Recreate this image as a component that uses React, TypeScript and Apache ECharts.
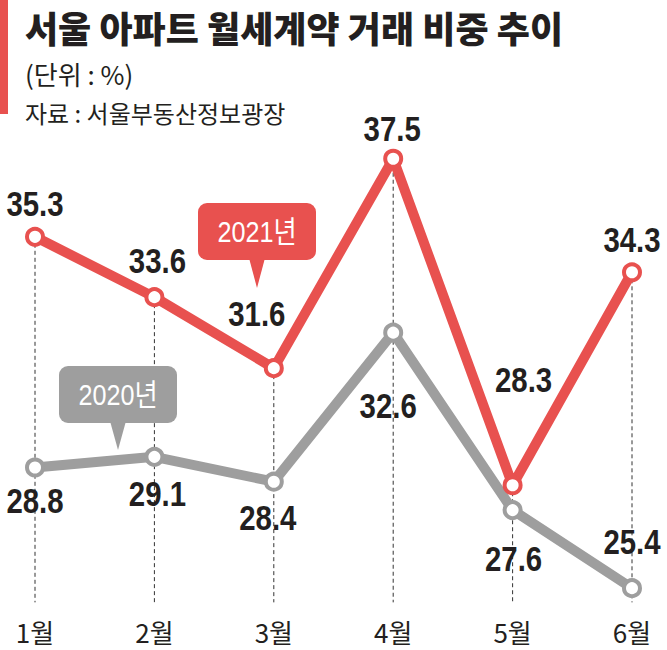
import React, { useEffect, useRef } from "react";
import * as echarts from "echarts";

// ---- data ----
const categories = ["1월", "2월", "3월", "4월", "5월", "6월"];
const values2021 = [35.3, 33.6, 31.6, 37.5, 28.3, 34.3];
const values2020 = [28.8, 29.1, 28.4, 32.6, 27.6, 25.4];
const seriesNames = ["2021년", "2020년"];
const titleText = "서울 아파트 월세계약 거래 비중 추이";
const unitText = "(단위 : %)";
const sourceText = "자료 : 서울부동산정보광장";

// ---- layout / style ----
const RED = "#e8514f";
const GRAY = "#9e9e9e";
const INK = "#231f20";
const NUM_FONT = '"Liberation Sans", Arial, sans-serif';
const KR_FONT = '"Noto Sans CJK KR", "Noto Sans", sans-serif';
const NARROW = 0.84;
const Y_MIN = 24.7;
const Y_MAX = 38;
const DASH_BOTTOM = 25.0;
// label centre offsets from each point (px)
const labelOffsets2021: [number, number][] = [
  [0, -33], [3, -36], [-17, -54], [-1, -30], [11, -105], [0, -32],
];
const labelOffsets2020: [number, number][] = [
  [0, 34], [3, 37], [-6, 36], [-5, 73], [1, 49], [0, -46],
];

function labelSeries(values: number[], offsets: [number, number][]) {
  return {
    type: "custom",
    silent: true,
    z: 6,
    data: values.map((v, i) => [i, v]),
    renderItem: (params: any, api: any) => {
      const p = api.coord([api.value(0), api.value(1)]);
      const off = offsets[params.dataIndex];
      return {
        type: "text",
        x: p[0] + off[0],
        y: p[1] + off[1],
        scaleX: NARROW,
        style: {
          text: Number(api.value(1)).toFixed(1),
          fontFamily: NUM_FONT,
          fontWeight: "bold",
          fontSize: 35,
          fill: INK,
          align: "center",
          verticalAlign: "middle",
        },
      };
    },
  };
}

export default function App() {
  const ref = useRef<HTMLDivElement>(null);

  useEffect(() => {
    if (!ref.current) return;
    const chart = echarts.init(ref.current, null, { renderer: "svg" });

    const dashData = categories.map((_, i) => [
      i,
      Math.max(values2021[i], values2020[i]),
      DASH_BOTTOM,
    ]);

    const badgeText = (text: string, x: number, y: number) => ({
      type: "text",
      z: 11,
      x,
      y,
      scaleX: NARROW,
      style: {
        text,
        fontFamily: NUM_FONT + ", " + KR_FONT,
        fontSize: 30,
        fill: "#ffffff",
        align: "center",
        verticalAlign: "middle",
      },
    });

    const option: any = {
      animation: false,
      backgroundColor: "#ffffff",
      title: {
        text: titleText,
        left: 25,
        top: 9,
        padding: 0,
        textStyle: {
          fontFamily: KR_FONT,
          fontWeight: 900,
          fontSize: 36,
          lineHeight: 36,
          color: INK,
        },
      },
      grid: { left: 35, right: 35, top: 141, height: 472 },
      xAxis: {
        type: "category",
        data: categories,
        boundaryGap: false,
        axisLine: { show: false },
        axisTick: { show: false },
        splitLine: { show: false },
        axisLabel: {
          margin: 5,
          fontFamily: KR_FONT,
          fontSize: 26,
          lineHeight: 26,
          color: INK,
        },
      },
      yAxis: {
        type: "value",
        min: Y_MIN,
        max: Y_MAX,
        show: false,
        splitLine: { show: false },
      },
      series: [
        {
          type: "custom",
          silent: true,
          z: 1,
          data: dashData,
          renderItem: (params: any, api: any) => {
            const top = api.coord([api.value(0), api.value(1)]);
            const bottom = api.coord([api.value(0), api.value(2)]);
            return {
              type: "line",
              shape: { x1: top[0], y1: top[1], x2: bottom[0], y2: bottom[1] },
              style: { stroke: "#333333", lineWidth: 1, lineDash: [4, 3] },
            };
          },
        },
        {
          name: seriesNames[1],
          type: "line",
          z: 2,
          data: values2020,
          symbol: "circle",
          symbolSize: 16,
          lineStyle: { color: GRAY, width: 10 },
          itemStyle: { color: "#ffffff", borderColor: GRAY, borderWidth: 4 },
        },
        {
          name: seriesNames[0],
          type: "line",
          z: 3,
          data: values2021,
          symbol: "circle",
          symbolSize: 16,
          lineStyle: { color: RED, width: 10 },
          itemStyle: { color: "#ffffff", borderColor: RED, borderWidth: 4 },
        },
        labelSeries(values2020, labelOffsets2020),
        labelSeries(values2021, labelOffsets2021),
      ],
      graphic: [
        { type: "rect", shape: { x: 0, y: 0, width: 8, height: 114 }, style: { fill: RED } },
        {
          type: "text",
          x: 25,
          y: 73,
          style: {
            text: unitText,
            fontFamily: KR_FONT,
            fontSize: 26,
            fill: INK,
            verticalAlign: "middle",
          },
        },
        {
          type: "text",
          x: 25,
          y: 112,
          style: {
            text: sourceText,
            fontFamily: KR_FONT,
            fontSize: 24,
            fill: INK,
            verticalAlign: "middle",
          },
        },
        // 2021 badge
        {
          type: "rect",
          z: 10,
          shape: { x: 198, y: 203, width: 118, height: 57, r: 9 },
          style: { fill: RED },
        },
        {
          type: "polygon",
          z: 10,
          shape: { points: [[249, 258], [265, 258], [257, 288]] },
          style: { fill: RED },
        },
        badgeText(seriesNames[0], 257, 232),
        // 2020 badge
        {
          type: "rect",
          z: 10,
          shape: { x: 59, y: 366, width: 118, height: 57, r: 9 },
          style: { fill: GRAY },
        },
        {
          type: "polygon",
          z: 10,
          shape: { points: [[110, 421], [126, 421], [118, 450]] },
          style: { fill: GRAY },
        },
        badgeText(seriesNames[1], 118, 395),
      ],
    };

    chart.setOption(option);
    return () => chart.dispose();
  }, []);

  return (
    <div
      ref={ref}
      style={{ position: "absolute", left: 0, top: 0, width: 667, height: 650 }}
    />
  );
}
